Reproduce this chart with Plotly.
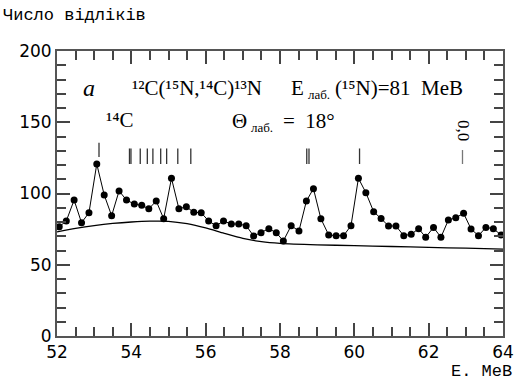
import plotly.graph_objects as go

# Data
energy = [52.06, 52.25, 52.46, 52.66, 52.86, 53.07, 53.27, 53.47, 53.67, 53.87,
          54.08, 54.28, 54.47, 54.67, 54.87, 55.08, 55.28, 55.48, 55.68, 55.88,
          56.08, 56.28, 56.48, 56.69, 56.89, 57.09, 57.29, 57.49, 57.70, 57.90,
          58.09, 58.30, 58.51, 58.71, 58.90, 59.10, 59.31, 59.51, 59.71, 59.91,
          60.11, 60.31, 60.52, 60.72, 60.92, 61.12, 61.33, 61.53, 61.73, 61.92,
          62.13, 62.33, 62.53, 62.73, 62.94, 63.14, 63.34, 63.54, 63.74, 63.95]
counts = [76.7, 80.7, 95.4, 79.5, 86.5, 120.7, 99.0, 84.4, 101.8, 95.4,
          92.6, 91.7, 89.3, 94.7, 82.3, 110.7, 89.3, 90.7, 86.8, 86.5,
          80.7, 77.4, 80.7, 78.6, 78.6, 77.4, 70.2, 72.5, 75.3, 72.5,
          66.7, 77.4, 73.7, 94.7, 103.4, 82.3, 70.9, 70.4, 70.4, 77.4,
          110.7, 100.6, 87.2, 82.4, 77.2, 77.2, 70.4, 71.4, 75.3, 69.3,
          76.2, 69.3, 81.4, 83.0, 86.1, 75.1, 70.4, 76.2, 75.3, 70.9]

bg_energy = [52.0, 52.5, 53.0, 53.5, 54.0, 54.5, 55.0, 55.5, 56.0, 56.5,
             57.0, 57.5, 58.0, 59.0, 60.0, 61.0, 62.0, 63.0, 64.0]
bg_counts = [73.0, 75.5, 77.5, 79.0, 80.0, 80.6, 80.5, 78.8, 75.8, 72.0,
             68.5, 66.2, 65.0, 64.0, 63.4, 62.8, 62.2, 61.6, 61.0]

# 14C level markers (positions and vertical extents)
level_e = [53.13, 53.95, 53.99, 54.24, 54.43, 54.58, 54.79, 54.95, 55.25, 55.60,
           58.72, 58.78, 60.14]
level_lo = [125.7, 120.7, 120.7, 120.7, 120.7, 120.7, 120.7, 120.7, 120.7, 120.7,
            120.7, 120.7, 120.7]
level_hi = [135.6, 131.6, 131.6, 131.6, 131.6, 131.6, 131.6, 131.6, 131.6, 131.6,
            131.6, 131.6, 131.6]
gs_e = [62.91]
gs_lo = [120.7]
gs_hi = [130.5]

fig = go.Figure()

fig.add_trace(go.Scatter(x=bg_energy, y=bg_counts, mode="lines",
                         line=dict(color="black", width=1.3, shape="spline", smoothing=0.8),
                         showlegend=False, hoverinfo="skip"))
fig.add_trace(go.Scatter(x=energy, y=counts, mode="lines+markers",
                         line=dict(color="black", width=1),
                         marker=dict(color="black", size=7),
                         showlegend=False))

lx, ly = [], []
for e, lo, hi in zip(level_e, level_lo, level_hi):
    lx += [e, e, None]
    ly += [lo, hi, None]
fig.add_trace(go.Scatter(x=lx, y=ly, mode="lines",
                         line=dict(color="#333333", width=1.3),
                         showlegend=False, hoverinfo="skip"))
gx, gy = [], []
for e, lo, hi in zip(gs_e, gs_lo, gs_hi):
    gx += [e, e, None]
    gy += [lo, hi, None]
fig.add_trace(go.Scatter(x=gx, y=gy, mode="lines",
                         line=dict(color="#777777", width=1.3),
                         showlegend=False, hoverinfo="skip"))

serif = "Liberation Serif"
sfont = dict(family=serif, size=21, color="black")
subfont = dict(family=serif, size=13, color="black")
ann = [
    dict(x=52.87, y=174, text="<i>a</i>", font=dict(family=serif, size=24, color="black")),
    dict(x=55.77, y=174, text="¹²C(¹⁵N,¹⁴C)¹³N", font=sfont),
    dict(x=58.70, y=174, text="E", xanchor="right", font=sfont),
    dict(x=58.70, y=169.5, text="лаб.", xanchor="left", font=subfont),
    dict(x=59.42, y=174, text="(¹⁵N)=81  MeB", xanchor="left", font=sfont),
    dict(x=53.69, y=151.6, text="¹⁴C", font=sfont),
    dict(x=57.17, y=151, text="Θ", xanchor="right", font=sfont),
    dict(x=57.17, y=146.5, text="лаб.", xanchor="left", font=subfont),
    dict(x=58.02, y=151, text="=  18°", xanchor="left", font=sfont),
    dict(x=62.92, y=144, text="0,0", textangle=90, font=dict(family=serif, size=17, color="black")),
]
for a in ann:
    fig.add_annotation(xref="x", yref="y", showarrow=False, **a)

mono = "Liberation Mono"
fig.add_annotation(xref="paper", yref="paper", x=-0.125, y=1.125, xanchor="left", yanchor="middle",
                   text="Число відліків", showarrow=False,
                   font=dict(family=mono, size=17, color="black"))
fig.add_annotation(xref="paper", yref="paper", x=1.025, y=-0.125, xanchor="right", yanchor="middle",
                   text="E. MeB", showarrow=False,
                   font=dict(family=mono, size=17, color="black"))

axis_common = dict(
    showgrid=False, zeroline=False, showline=True, linecolor="#555555", linewidth=2,
    mirror="allticks", ticks="inside", ticklen=13, tickwidth=2, tickcolor="#444444",
    layer="above traces",
)
fig.update_xaxes(range=[52, 64], tickmode="linear", tick0=52, dtick=2,
                 minor=dict(dtick=0.5, ticklen=9, tickwidth=2, tickcolor="#444444", ticks="inside"),
                 **axis_common)
fig.update_yaxes(range=[0, 200], tickmode="linear", tick0=0, dtick=50,
                 minor=dict(dtick=10, ticklen=9, tickwidth=2, tickcolor="#444444", ticks="inside"),
                 **axis_common)

fig.update_layout(width=526, height=383, margin=dict(l=57, r=14, t=51, b=47),
                  font=dict(family="DejaVu Sans", size=17, color="black"),
                  paper_bgcolor="white", plot_bgcolor="white")

fig.write_html("out.html")
